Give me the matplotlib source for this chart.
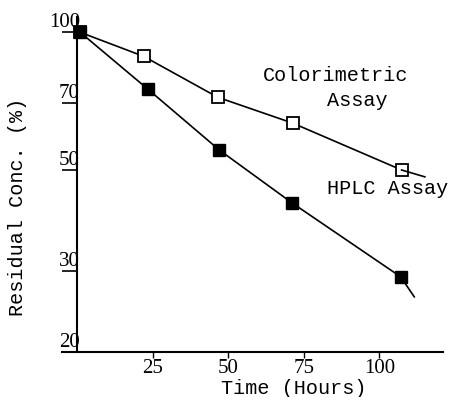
import matplotlib
matplotlib.use("Agg")
import matplotlib.pyplot as plt

# sampling times (hours) and residual concentration (%)
hplc_t = [1, 23.5, 47, 71, 107]
hplc_c = [100, 75, 55.3, 42.4, 29.2]
color_t = [1, 22, 46.5, 71.3, 107.3]
color_c = [100, 88.6, 72.1, 63.3, 50]
# fitted lines carried past the last point
hplc_ext_t = [107, 111.5]
hplc_ext_c = [29.2, 26.4]
color_ext_t = [107.3, 115]
color_ext_c = [50, 48.3]

xticks = [25, 50, 75, 100]
yticks = [100, 70, 50, 30, 20]

mono = "Liberation Mono"
serif = "Liberation Serif"

fig = plt.figure(figsize=(4.52, 3.97), dpi=100)
ax = fig.add_axes([62 / 452, 1 - 352 / 397, 381 / 452, 335 / 397])

ax.plot(color_t, color_c, "-", color="black", lw=1.2, marker="s", ms=8,
        mfc="white", mec="black", mew=1.3)
ax.plot(color_ext_t, color_ext_c, "-", color="black", lw=1.2)
ax.plot(hplc_t, hplc_c, "-", color="black", lw=1.2, marker="s", ms=8,
        mfc="black", mec="black")
ax.plot(hplc_ext_t, hplc_ext_c, "-", color="black", lw=1.2)

ax.set_yscale("log")
ax.set_ylim(20, 108)
ax.set_xlim(-5, 121)

ax.spines["top"].set_visible(False)
ax.spines["right"].set_visible(False)
ax.spines["left"].set_position(("data", 0))
ax.spines["left"].set_linewidth(1.5)
ax.spines["bottom"].set_linewidth(1.5)

ax.set_xticks(xticks)
ax.set_xticklabels([str(v) for v in xticks], fontfamily=serif, fontsize=15)
ax.tick_params(axis="x", direction="out", length=4, width=1, pad=1)

ax.yaxis.set_minor_locator(matplotlib.ticker.NullLocator())
ax.set_yticks(yticks)
ax.set_yticklabels([])
ax.tick_params(axis="y", direction="out", length=11, width=1.2)
for v in yticks:
    ax.annotate(str(v), xy=(0, v), xytext=(2, 7), textcoords="offset points",
                ha="right", va="center", fontfamily=serif, fontsize=15)

ax.text(61.4, 80.6, "Colorimetric", fontfamily=mono, fontsize=14.5,
        ha="left", va="center")
ax.text(82.5, 71.0, "Assay", fontfamily=mono, fontsize=14.5,
        ha="left", va="center")
ax.text(82.8, 45.6, "HPLC Assay", fontfamily=mono, fontsize=14.5,
        ha="left", va="center")

fig.text(293.5 / 452, 1 - 389 / 397, "Time (Hours)", fontfamily=mono,
         fontsize=14.5, ha="center", va="center")
fig.text(18 / 452, 1 - 207 / 397, "Residual Conc. (%)", fontfamily=mono,
         fontsize=14.5, ha="center", va="center", rotation=90)

fig.savefig("out.png", dpi=100)
